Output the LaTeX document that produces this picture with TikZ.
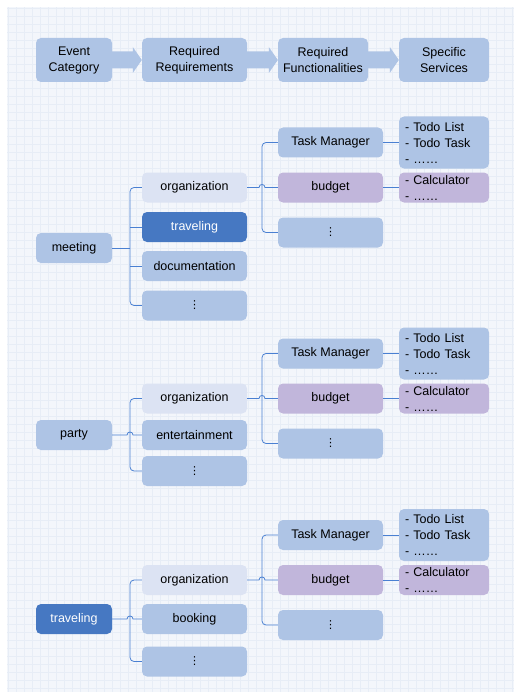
\documentclass[tikz,border=0pt]{standalone}
\usepackage{fontspec}
\setmainfont{Liberation Sans}
\newfontfamily\symfont{DejaVu Sans}
\usetikzlibrary{calc}
\definecolor{boxblue}{HTML}{AEC4E5}
\definecolor{orgblue}{HTML}{DCE3F3}
\definecolor{darkblue}{HTML}{4678C2}
\definecolor{budgetpurple}{HTML}{C1B6DB}
\definecolor{linkblue}{HTML}{4A80D2}
\definecolor{panelbg}{HTML}{F3F6FB}
\definecolor{gridcol}{HTML}{E7EDF6}
\newcommand{\vdot}{{\symfont\fontsize{11}{12}\selectfont ⋮}}
\tikzset{
  box/.style={rounded corners=5pt, fill=boxblue, inner sep=0pt, minimum height=30pt,
    font=\fontsize{12.5}{16}\selectfont, align=center},
  head/.style={box, minimum height=44pt},
  cat/.style={box, minimum width=76pt},
  req/.style={box, minimum width=105pt},
  func/.style={box, minimum width=105pt},
  svc/.style={box, minimum width=90pt, text width=78pt, align=left},
  light/.style={fill=orgblue},
  dark/.style={fill=darkblue, text=white},
  purple/.style={fill=budgetpurple},
  link/.style={draw=linkblue, line width=0.8pt, rounded corners=4pt},
  hop/.style={draw=linkblue, line width=0.8pt},
  hdarrow/.style={fill=boxblue},
}

\begin{document}
\begin{tikzpicture}[x=1pt, y=-1pt]
    \useasboundingbox (0,0) rectangle (514,695);
    \fill[panelbg] (7,7) rectangle (514,692);
    \draw[gridcol, line width=0.3pt, step=8pt] (7,692) grid (514,7);

    % header row
    \node[head, minimum width=76pt] (h1) at (74,60) {Event\\Category};
    \node[head, minimum width=105pt] (h2) at (194.5,60) {Required\\Requirements};
    \node[head, minimum width=90pt] (h3) at (323,60) {Required\\Functionalities};
    \node[head, minimum width=90pt] (h4) at (444,60) {Specific\\Services};
    \foreach \a/\b in {h1/h2, h2/h3, h3/h4}
        \fill[hdarrow] ($(\a.east)+(0,-8.5)$) -- ($(\b.west)+(-9,-8.5)$) -- ++(0,-4.5)
            -- (\b.west) -- ++(-9,13) -- ++(0,-4.5) -- ($(\a.east)+(0,8.5)$) -- cycle;

    % meeting
    \node[cat] (m-cat) at (74,248) {meeting};
    \node[req, light] (m-org) at (194.5,187.5) {organization};
    \node[req, dark] (m-trav) at (194.5,227) {traveling};
    \node[req] (m-doc) at (194.5,266) {documentation};
    \node[req] (m-dots) at (194.5,305.5) {\vdot};
    \coordinate (m-j) at (130,248);
    \draw[link] (m-org.west) -| (m-j) |- (m-dots.west);
    \draw[link] (m-cat.east) -- (m-j);
    \draw[link] (m-trav.west) -- ++(-12,0);
    \draw[link] (m-doc.west) -- ++(-12,0);

    % party
    \node[cat] (p-cat) at (74,435) {party};
    \node[req, light] (p-org) at (194.5,398.5) {organization};
    \node[req] (p-ent) at (194.5,435) {entertainment};
    \node[req] (p-dots) at (194.5,471) {\vdot};
    \draw[link] (p-org.west) -| (130,435) |- (p-dots.west);
    \draw[hop] (p-cat.east) -- (127,435) .. controls (127,431) and (133,431) .. (133,435) -- (p-ent.west);

    % traveling
    \node[cat, dark] (t-cat) at (74,619) {traveling};
    \node[req, light] (t-org) at (194.5,580) {organization};
    \node[req] (t-book) at (194.5,619) {booking};
    \node[req] (t-dots) at (194.5,661.5) {\vdot};
    \draw[link] (t-org.west) -| (130,619) |- (t-dots.west);
    \draw[hop] (t-cat.east) -- (127,619) .. controls (127,615) and (133,615) .. (133,619) -- (t-book.west);

    % functionalities and services
    \foreach \g/\y in {m/187.5, p/398.5, t/580} {
        \node[func] (\g-tm) at (330.5,\y-45) {Task Manager};
        \node[func, purple] (\g-bud) at (330.5,\y) {budget};
        \node[func] (\g-fd) at (330.5,\y+45) {\vdot};
        \node[svc, minimum height=52pt] (\g-todo) at (444,\y-45) {- Todo List\\- Todo Task\\- ……};
        \node[svc, purple] (\g-calc) at (444,\y) {- Calculator\\- ……};
        \draw[link] (\g-tm.west) -| (262,\y) |- (\g-fd.west);
        \draw[hop] (\g-org.east) -- (259,\y) .. controls (259,\y-4) and (265,\y-4) .. (265,\y) -- (\g-bud.west);
        \draw[link] (\g-tm.east) -- (\g-todo.west);
        \draw[link] (\g-bud.east) -- (\g-calc.west);
    }
\end{tikzpicture}
\end{document}
